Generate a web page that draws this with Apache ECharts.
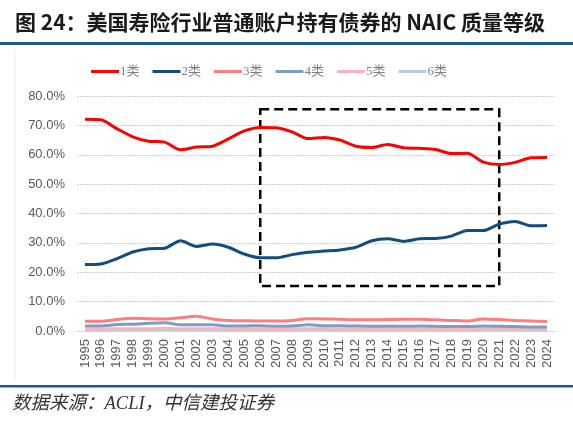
<!DOCTYPE html>
<html>
<head>
<meta charset="utf-8">
<script src="https://cdn.jsdelivr.net/npm/echarts@6/dist/echarts.min.js"></script>
<style>
  html, body { margin: 0; padding: 0; background: #fff; }
  #chart { width: 573px; height: 424px; }
</style>
</head>
<body>
<div id="chart"></div>
<script>
const years = ['1995','1996','1997','1998','1999','2000','2001','2002','2003','2004','2005','2006','2007','2008','2009',
  '2010','2011','2012','2013','2014','2015','2016','2017','2018','2019','2020','2021','2022','2023','2024'];

// 各类占比（%）
const class1 = [72.1,71.9,68.9,66.1,64.6,64.3,61.7,62.6,62.9,65.4,68.1,69.3,69.2,67.8,65.5,
  65.9,65.0,62.9,62.5,63.5,62.4,62.2,61.8,60.4,60.5,57.5,56.7,57.4,59.0,59.1];
const class2 = [22.6,22.8,24.6,26.9,28.0,28.2,30.7,28.8,29.6,28.5,26.2,24.9,24.9,26.0,26.8,
  27.2,27.6,28.5,30.7,31.4,30.5,31.4,31.5,32.3,34.2,34.2,36.4,37.3,35.8,35.9];
const class3 = [3.3,3.3,3.9,4.3,4.2,4.1,4.5,5.0,4.1,3.6,3.5,3.4,3.4,3.6,4.2,
  4.1,4.0,3.8,3.8,3.9,4.0,4.0,3.8,3.6,3.4,4.1,3.9,3.6,3.4,3.2];
const class4 = [1.7,1.7,2.2,2.3,2.6,2.8,2.1,2.1,2.1,1.7,1.7,1.8,1.6,1.7,2.1,
  1.8,1.8,1.7,1.6,1.6,1.6,1.7,1.6,1.5,1.5,1.7,1.6,1.5,1.4,1.4];
const class5 = [0.7,0.7,0.8,0.8,0.8,0.9,0.8,0.8,0.8,0.7,0.7,0.7,0.6,0.7,0.8,
  0.8,0.7,0.7,0.7,0.7,0.7,0.7,0.7,0.7,0.7,0.8,0.8,0.7,0.7,0.7];
const class6 = [0.3,0.3,0.4,0.4,0.4,0.5,0.4,0.4,0.4,0.3,0.3,0.3,0.3,0.3,0.4,
  0.4,0.3,0.3,0.3,0.3,0.3,0.3,0.3,0.3,0.3,0.4,0.4,0.3,0.3,0.3];

const names = ['1类','2类','3类','4类','5类','6类'];
const colors = ['#ff0000','#134d7c','#ff7c80','#7b9fbd','#ffb3b8','#b8cce0'];
const seriesData = [class1, class2, class3, class4, class5, class6];

// 虚线框范围
const boxYears = ['2006', '2021'];
const boxValues = [75.5, 15.3];

const chart = echarts.init(document.getElementById('chart'));

const series = seriesData.map((d, i) => ({
  name: names[i],
  type: 'line',
  data: d,
  smooth: 0.25,
  symbol: 'none',
  z: 10 - i,
  lineStyle: { color: colors[i], width: 3 },
  itemStyle: { color: colors[i] }
}));

series[0].markArea = {
  silent: true,
  itemStyle: {
    color: 'rgba(0,0,0,0)',
    borderColor: '#000',
    borderWidth: 2.5,
    borderType: [9, 5]
  },
  data: [[
    { xAxis: boxYears[0], yAxis: boxValues[0] },
    { xAxis: boxYears[1], yAxis: boxValues[1] }
  ]]
};

const option = {
  animation: false,
  title: {
    text: '图 24：美国寿险行业普通账户持有债券的 NAIC 质量等级',
    left: 10,
    top: 7,
    textStyle: {
      fontFamily: '"Noto Sans CJK SC", "DejaVu Sans", sans-serif',
      fontWeight: 'bold',
      fontSize: 21,
      color: '#1a1a1a'
    }
  },
  legend: {
    top: 60,
    left: 86,
    itemWidth: 28,
    itemHeight: 3,
    itemGap: 13,
    icon: 'rect',
    data: names,
    textStyle: {
      fontFamily: '"Liberation Serif", "Noto Sans CJK SC", serif',
      fontSize: 13,
      color: '#7f7f7f',
      padding: [0, 0, 0, -4]
    }
  },
  grid: { left: 77, right: 18, top: 96, bottom: 93 },
  xAxis: {
    type: 'category',
    data: years,
    boundaryGap: true,
    axisLine: { lineStyle: { color: '#d9d9d9', width: 1 } },
    axisTick: { show: false },
    axisLabel: {
      rotate: 90,
      interval: 0,
      fontFamily: '"Liberation Sans", Arial, sans-serif',
      fontSize: 13,
      color: '#595959',
      margin: 8
    }
  },
  yAxis: {
    type: 'value',
    min: 0,
    max: 80,
    interval: 10,
    axisLine: { show: false },
    axisTick: { show: false },
    axisLabel: {
      formatter: v => v.toFixed(1) + '%',
      fontFamily: '"Liberation Sans", Arial, sans-serif',
      fontSize: 13,
      color: '#595959',
      margin: 12
    },
    splitLine: { lineStyle: { color: '#cfcfcf', type: [2, 1], width: 1 } }
  },
  graphic: [
    { type: 'rect', shape: { x: 0, y: 42, width: 573, height: 3 }, style: { fill: '#1f5c8b' } },
    { type: 'line', shape: { x1: 15, y1: 50, x2: 15, y2: 380 }, style: { stroke: '#eeeeee', lineWidth: 1 } },
    { type: 'rect', shape: { x: 0, y: 385, width: 573, height: 2.5 }, style: { fill: '#1f5c8b' } },
    {
      type: 'text', left: 12, top: 395,
      style: {
        text: '数据来源：ACLI，中信建投证券',
        font: 'italic 18.5px "Liberation Serif", "Noto Sans CJK SC", serif',
        fill: '#333'
      }
    }
  ],
  series
};

chart.setOption(option);
</script>
</body>
</html>
